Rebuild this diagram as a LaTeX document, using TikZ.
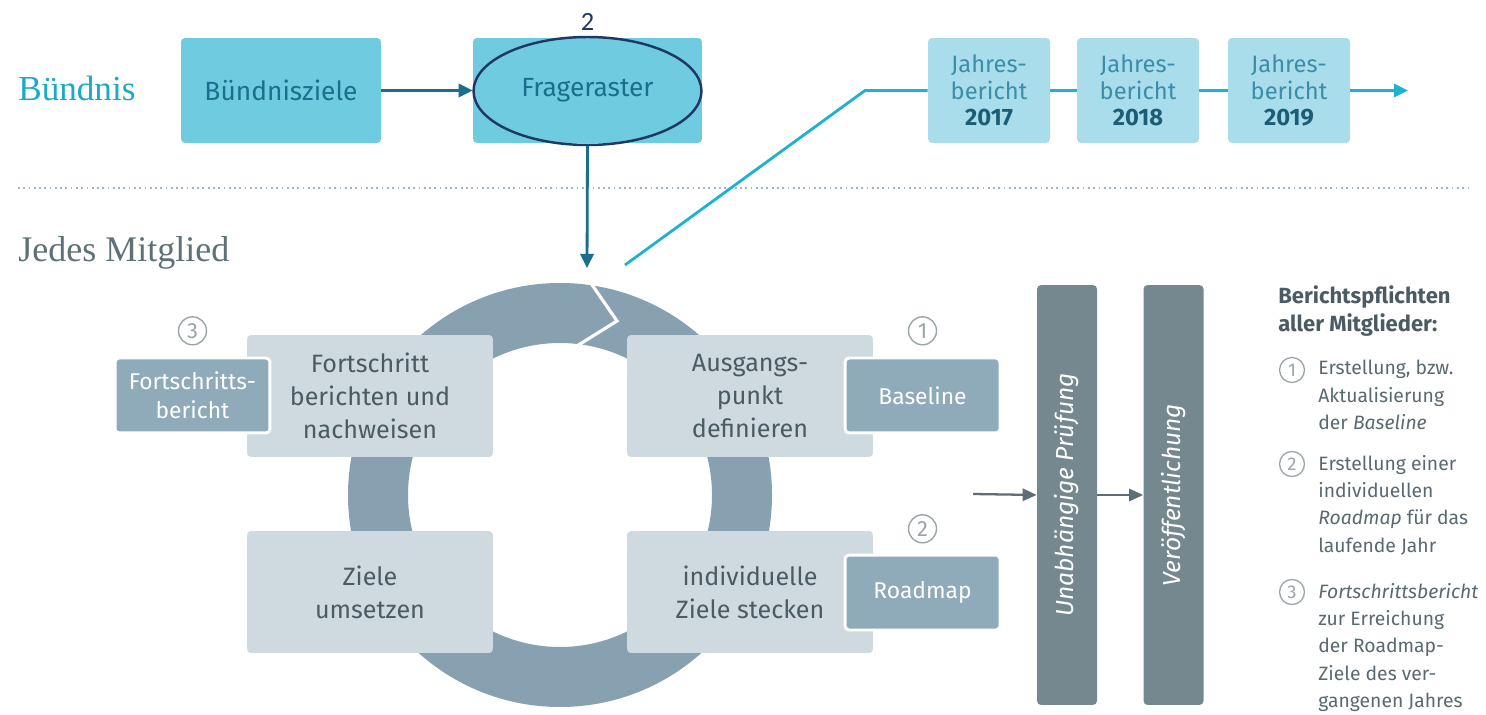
\documentclass[tikz,border=0pt]{standalone}
\usepackage{fontspec}
\setmainfont{Fira Sans}
\newfontfamily\titlefont{Liberation Serif}
\newfontfamily\notefont{Carlito}
\usepackage{xcolor}
\usepackage{tikz}
\usetikzlibrary{arrows.meta}
\usetikzlibrary{positioning}
\usetikzlibrary{shapes}

\definecolor{cyantext}{HTML}{1BA9C6}
\definecolor{topfill}{HTML}{6FCCE0}
\definecolor{toptext}{HTML}{1B6E8C}
\definecolor{jahrfill}{HTML}{A9DDEC}
\definecolor{jahrtext}{HTML}{3C8DA8}
\definecolor{jahryear}{HTML}{1D5C75}
\definecolor{cyanline}{HTML}{1FB1D0}
\definecolor{navy}{HTML}{203864}
\definecolor{tealarrow}{HTML}{1A6E8E}
\definecolor{dotcol}{HTML}{9DBAC4}
\definecolor{titlegray}{HTML}{5E7177}
\definecolor{ringfill}{HTML}{87A1B1}
\definecolor{cyclefill}{HTML}{CFD9E0}
\definecolor{cycletext}{HTML}{4B5B63}
\definecolor{sidefill}{HTML}{8FAAB9}
\definecolor{barfill}{HTML}{76888F}
\definecolor{botarrow}{HTML}{5D6F75}
\definecolor{numgray}{HTML}{9AA5AA}
\definecolor{listtext}{HTML}{5A6970}

\tikzset{
  toparrow/.style={draw=tealarrow, line width=1.6pt, -{Triangle[length=8pt,width=7.5pt]}},
  cyanpath/.style={draw=cyanline, line width=1.6pt},
  bararrow/.style={draw=botarrow, line width=1.3pt, -{Triangle[length=8pt,width=7pt]}},
  numcirc/.style={circle, draw=numgray, line width=0.8pt, text=numgray, minimum size=0.56cm,
    inner sep=0pt, font=\fontsize{12.5}{14}\selectfont},
  listnum/.style={circle, draw=numgray, line width=0.75pt, text=numgray, minimum size=0.5cm,
    inner sep=0pt, font=\fontsize{10.5}{12}\selectfont},
  listtext/.style={anchor=north west, inner sep=0pt, align=left, text=listtext,
    font=\fontsize{11}{15.5}\selectfont}
}

\begin{document}
\begin{tikzpicture}[x=0.02cm,y=-0.02cm]
    \fill[white] (0,0) rectangle (1486,715);
    \useasboundingbox (0,0) rectangle (1486,715);

    % titles and separator
    \node[anchor=base west, inner sep=0pt, text=cyantext, font=\titlefont\fontsize{20}{24}\selectfont] (buendnis) at (18,101) {Bündnis};
    \node[anchor=base west, inner sep=0pt, text=titlegray, font=\titlefont\fontsize{20.5}{24}\selectfont] (mitglied) at (18,262) {Jedes Mitglied};
    \draw[dotcol, line width=1pt, dotted] (18,188) -- (1470,188);

    % upper row
    \begin{scope}[every node/.style={rectangle, rounded corners=2.3pt, fill=topfill, text=toptext,
        minimum width=4cm, minimum height=2.1cm, font=\fontsize{15}{18}\selectfont}]
    \node (ziele) at (281,90.5) {Bündnisziele};
    \node[minimum width=4.58cm] (frage) at (587.5,90.5) {Frageraster};
    \end{scope}
    \node[ellipse, draw=navy, line width=1.4pt, minimum width=4.56cm, minimum height=2.16cm,
      label={[text=navy, font=\notefont\fontsize{15}{17}\selectfont, inner sep=0pt, label distance=3pt]above:2}] (frageoval) at (587.5,91) {};

    \begin{scope}[every node/.style={rectangle, rounded corners=2.3pt, fill=jahrfill, text=jahrtext,
        minimum width=2.44cm, minimum height=2.1cm, align=center, font=\fontsize{13.5}{15.2}\selectfont}]
    \node (j17) at (989,90.5) {Jahres-\\bericht\\\textcolor{jahryear}{\textbf{2017}}};
    \node (j18) at (1138,90.5) {Jahres-\\bericht\\\textcolor{jahryear}{\textbf{2018}}};
    \node (j19) at (1289,90.5) {Jahres-\\bericht\\\textcolor{jahryear}{\textbf{2019}}};
    \end{scope}

    \coordinate (ringtop) at (587,268);
    \coordinate (cystart) at (625,265);
    \coordinate (cybend) at (865,90.5);
    \coordinate (cyend) at (1408,90.5);

    \draw[toparrow] (ziele.east) -- (frage.west);
    \draw[toparrow] (frageoval.south) -- (ringtop);
    \draw[cyanpath] (cystart) -- (cybend) -- (j17.west);
    \draw[cyanpath] (j17.east) -- (j18.west);
    \draw[cyanpath] (j18.east) -- (j19.west);
    \draw[cyanpath, -{Triangle[length=8pt,width=7.5pt]}] (j19.east) -- (cyend);

    % cycle ring with chevron cut
    \fill[ringfill, even odd rule] (560,495) circle[radius=212] (560,495) circle[radius=152];
    \draw[white, line width=1.8pt] (588,279) -- (617,321) -- (572,349);

    \begin{scope}[every node/.style={rectangle, rounded corners=2.3pt, fill=cyclefill, text=cycletext,
        minimum width=4.92cm, minimum height=2.44cm, align=center, font=\fontsize{14.3}{18.7}\selectfont}]
    \node (fort) at (370,396) {Fortschritt\\berichten und\\nachweisen};
    \node (ausg) at (750,396) {Ausgangs-\\punkt\\definieren};
    \node (umset) at (370,592) {Ziele\\umsetzen};
    \node (steck) at (750,592) {individuelle\\Ziele stecken};
    \end{scope}

    \begin{scope}[every node/.style={rectangle, rounded corners=2.3pt, fill=sidefill, draw=white,
        line width=1.7pt, text=white, minimum width=3.1cm, minimum height=1.5cm, align=center,
        font=\fontsize{13}{16.5}\selectfont}]
    \node (fortb) at (192.5,395.5) {Fortschritts-\\bericht};
    \node (base) at (922.5,395.5) {Baseline};
    \node (road) at (922.5,592.5) {Roadmap};
    \end{scope}

    \node[numcirc, above=0.22cm of fortb] (n3) {3};
    \node[numcirc, above=0.22cm of base] (n1) {1};
    \node[numcirc, above=0.2cm of road] (n2) {2};

    % review and publication
    \begin{scope}[every node/.style={rectangle, rounded corners=2.3pt, fill=barfill,
        minimum width=1.2cm, minimum height=8.4cm}]
    \node (pruef) at (1067,495) {};
    \node (veroef) at (1173.5,495) {};
    \end{scope}
    \node[rotate=90, text=white, font=\itshape\fontsize{14}{16}\selectfont] (pruefText) at (pruef) {Unabhängige Prüfung};
    \node[rotate=90, text=white, font=\itshape\fontsize{14}{16}\selectfont] (veroefText) at (veroef) {Veröffentlichung};

    \coordinate (pin) at (973,494);
    \draw[bararrow] (pin) -- (pruef.west);
    \draw[bararrow] (pruef.east) -- (veroef.west);

    % reporting duties
    \node[anchor=north west, inner sep=0pt, align=left, text=cycletext,
      font=\bfseries\fontsize{12.5}{16}\selectfont] (duties) at (1278,285) {Berichtspflichten\\aller Mitglieder:};
    \node[listnum] (l1) at (1292,370) {1};
    \node[listtext] (item1) at (1318,360) {Erstellung, bzw.\\Aktualisierung\\der \textit{Baseline}};
    \node[listnum] (l2) at (1292,464) {2};
    \node[listtext] (item2) at (1318,455) {Erstellung einer\\individuellen\\\textit{Roadmap} für das\\laufende Jahr};
    \node[listnum] (l3) at (1292,592) {3};
    \node[listtext] (item3) at (1318,583) {\textit{Fortschrittsbericht}\\zur Erreichung\\der Roadmap-\\Ziele des ver-\\gangenen Jahres};
\end{tikzpicture}
\end{document}
